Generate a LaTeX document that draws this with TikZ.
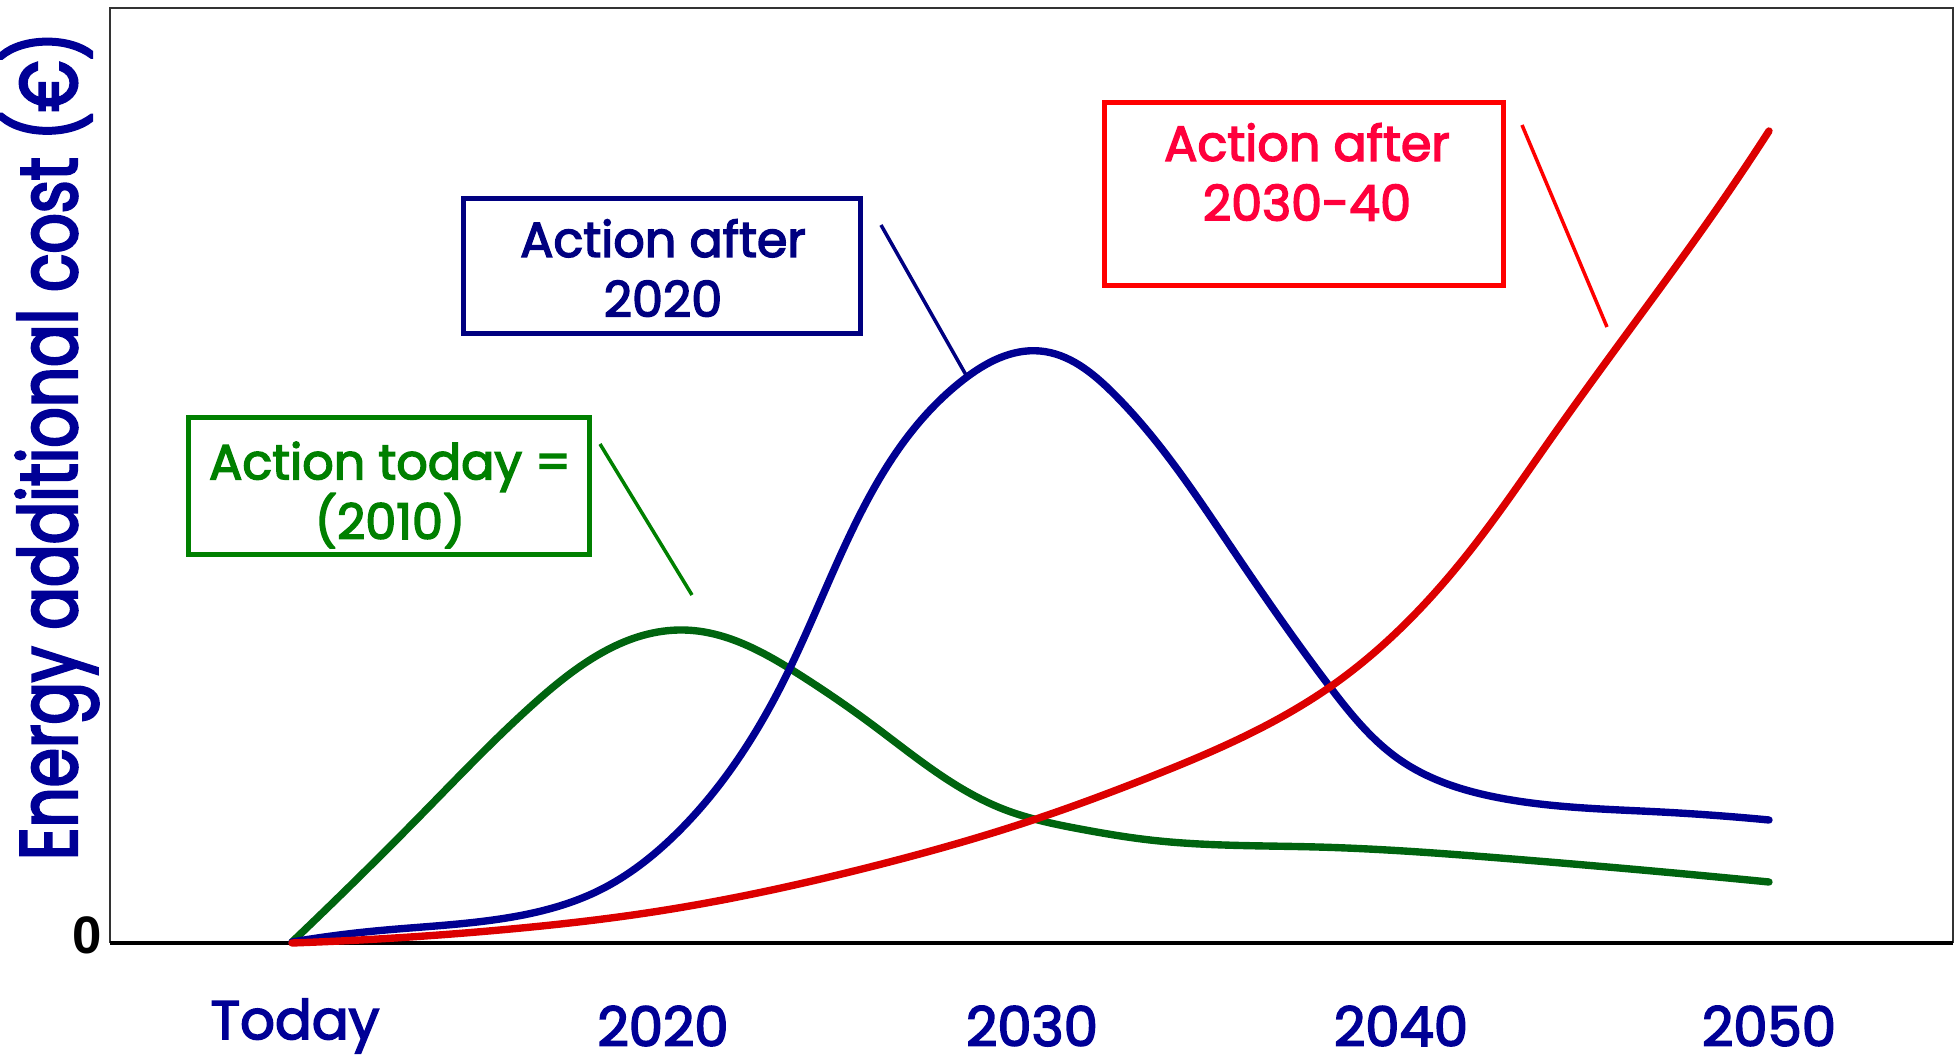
\documentclass[tikz,border=0pt]{standalone}
\usepackage{fontspec}
\setmainfont{Poppins}[FakeBold=3]
\newfontfamily\axisfont[FakeStretch=0.78,FakeBold=3]{Poppins}
\newfontfamily\zerofont{Liberation Sans}
\usepackage{tikz}
\usetikzlibrary{hobby}

\definecolor{grcurve}{RGB}{0,100,15}
\definecolor{grbox}{RGB}{0,128,0}
\definecolor{blcurve}{RGB}{0,0,145}
\definecolor{blbox}{RGB}{0,0,128}
\definecolor{rdcurve}{RGB}{220,0,0}
\definecolor{rdbox}{RGB}{255,0,0}
\definecolor{rdtext}{RGB}{255,0,60}
\definecolor{axisblue}{RGB}{0,0,150}

\tikzset{
  cost/.style={line width=2.1pt, line cap=round, line join=round, use Hobby shortcut},
  actionbox/.style={draw, line width=1.4pt, inner sep=0pt},
  actiontext/.style={align=center, inner sep=0pt, font=\fontsize{14}{17}\selectfont},
  pointer/.style={line width=1pt},
  yearlab/.style={text=axisblue, inner sep=0pt, font=\fontsize{15.5}{15.5}\selectfont}
}

\begin{document}
\begin{tikzpicture}[x=0.01cm,y=-0.01cm]
\useasboundingbox (0,0) rectangle (1959,1061);

% frame and zero line
\draw[black!80, line width=0.45pt] (110,943) -- (110,8) -- (1953,8) -- (1953,943);
\draw[black, line width=1.4pt] (110,943) -- (1953,943);
\node[font=\zerofont\bfseries\fontsize{15}{15}\selectfont] (zero) at (87,935) {0};

% axis labels
\node[rotate=90, text=axisblue, font=\axisfont\fontsize{23}{23}\selectfont] (ylab) at (50,446) {Energy additional cost (€)};
\node[yearlab] (today) at (295,1026) {Today};
\node[yearlab] (y2020) at (663,1026) {2020};
\node[yearlab] (y2030) at (1032,1026) {2030};
\node[yearlab] (y2040) at (1401,1026) {2040};
\node[yearlab] (y2050) at (1769,1026) {2050};

% the three cost curves
\draw[cost, grcurve] (292,942) .. (423,813) .. (538,700) .. (683,630) .. (800,675) .. (870,723) .. (1003,809) .. (1080,829) .. (1150,840) .. (1317,847) .. (1500,858) .. (1769,882);
\draw[cost, blcurve] (292,942) .. (375,931) .. (500,919) .. (600,890) .. (675,835) .. (790,668) .. (963,380) .. (1040,351) .. (1113,393) .. (1233,550) .. (1330,687) .. (1400,760) .. (1500,798) .. (1661,812) .. (1769,820);
\draw[cost, rdcurve] (292,943) .. (500,930) .. (653,912) .. (870,867) .. (1030,821) .. (1150,777) .. (1330,687) .. (1473,547) .. (1550,440) .. (1617,347) .. (1723,200) .. (1769,131);

% boxes
\node[actionbox, grbox, minimum width=4cm, minimum height=1.37cm] (todaybox) at (389,486) {};
\node[actiontext, text=grbox] (todaytxt) at (390,495) {Action today =\\(2010)};
\node[actionbox, blbox, minimum width=3.97cm, minimum height=1.35cm] (after20) at (662,266) {};
\node[actiontext, text=blbox] (after20txt) at (663,268) {Action after\\2020};
\node[actionbox, rdbox, minimum width=3.99cm, minimum height=1.83cm] (after30) at (1304,194) {};
\node[actiontext, text=rdtext] (after30txt) at (1307,172) {Action after\\2030-40};

% pointers
\coordinate (gp1) at (600,444);
\coordinate (gp2) at (692,595);
\coordinate (bp1) at (881,225);
\coordinate (bp2) at (966,375);
\coordinate (rp1) at (1522,125);
\coordinate (rp2) at (1607,327);
\draw[pointer, grbox] (gp1) -- (gp2);
\draw[pointer, blbox] (bp1) -- (bp2);
\draw[pointer, rdbox] (rp1) -- (rp2);
\end{tikzpicture}
\end{document}
